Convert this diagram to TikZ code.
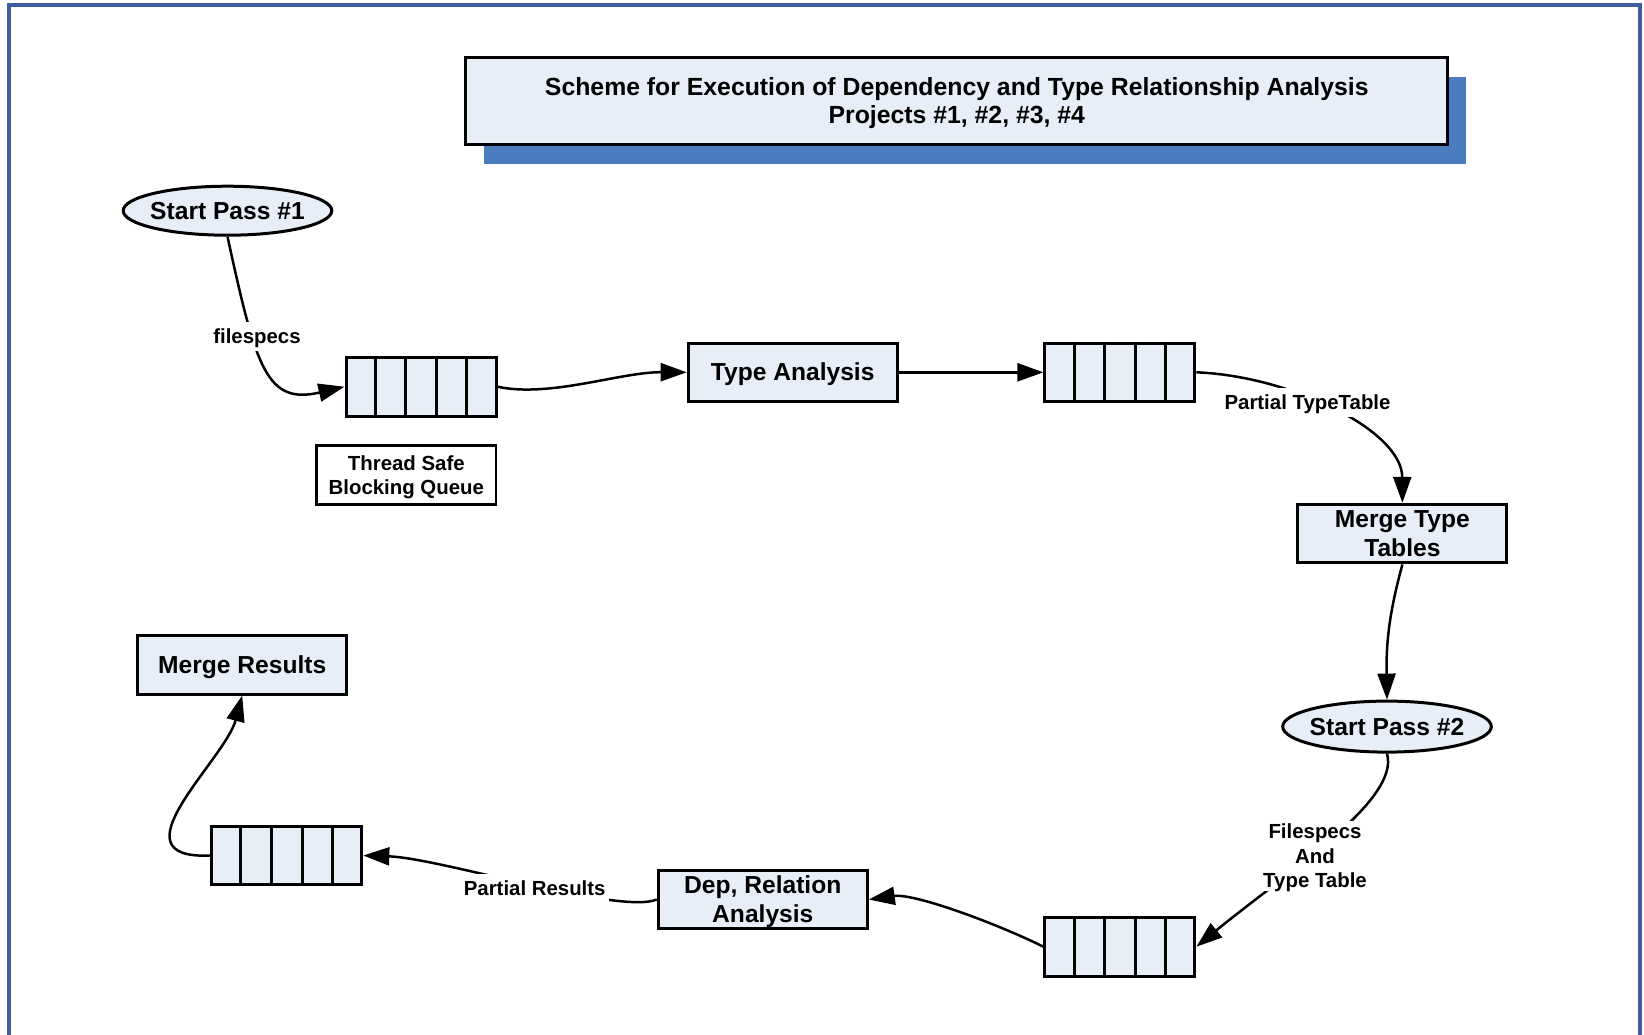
\documentclass[tikz,border=0pt]{standalone}
\usepackage{fontspec}
\setmainfont{Liberation Sans}
\usetikzlibrary{arrows.meta,shapes.geometric,shadows,calc}

\definecolor{framecol}{RGB}{63,94,160}
\definecolor{shadowblue}{RGB}{76,124,192}
\definecolor{boxfill}{RGB}{232,238,247}

\tikzset{
  box/.style={draw, fill=boxfill, line width=1.5pt, inner sep=0pt, align=center,
              font=\fontsize{12.3}{14.2}\selectfont\bfseries},
  oneline/.style={text height=11.1pt, text depth=2.6pt},
  procbox/.style={box, minimum width=104.5pt, minimum height=29.3pt},
  startnode/.style={box, oneline, ellipse, inner xsep=-3pt, minimum width=100pt},
  queuebox/.style={draw, fill=boxfill, line width=1.5pt, inner sep=0pt,
                   minimum width=75pt, minimum height=29.3pt},
  cellline/.style={line width=1.5pt},
  notebox/.style={draw, fill=white, line width=1.3pt, inner sep=0pt, align=center,
                  minimum width=89.7pt, minimum height=29.3pt,
                  font=\fontsize{10.2}{12.3}\selectfont\bfseries},
  flow/.style={line width=1.25pt, -{Triangle[length=13pt,width=9pt]}},
  lbl/.style={fill=white, inner sep=1.5pt, align=center,
              font=\fontsize{10.2}{12.3}\selectfont\bfseries},
  lblone/.style={lbl, text height=9.2pt, text depth=2.2pt},
}

\begin{document}
\begin{tikzpicture}[x=0.5pt, y=-0.5pt]
  \useasboundingbox (0,0) rectangle (1644,1034);
  \fill[white] (0,0) rectangle (1644,1034);

  % outer frame, open at the bottom edge
  \draw[framecol, line width=1.6pt] (9,1050) -- (9,5) -- (1640,5) -- (1640,1050);

  % heading
  \node[box, minimum width=491pt, minimum height=43.5pt, text depth=0.6pt,
        font=\fontsize{12.4}{14.2}\selectfont\bfseries,
        drop shadow={shadow xshift=9pt, shadow yshift=-9.8pt, fill=shadowblue, opacity=1}]
    (title) at (956.8,101.2)
    {Scheme for Execution of Dependency and Type Relationship Analysis\\Projects \#1, \#2, \#3, \#4};

  % pass 1
  \node[startnode, minimum width=104.3pt, minimum height=24.5pt] (sp1) at (227.5,210.7) {Start Pass \#1};
  \node[queuebox] (q1) at (421,386.7) {};
  \node[notebox, text depth=0pt] (tsq) at (406.3,475) {Thread Safe\\Blocking Queue};
  \node[procbox, oneline] (ta) at (792.7,372.3) {Type Analysis};
  \node[queuebox] (q2) at (1119.9,372.3) {};
  \node[procbox] (mtt) at (1402.4,533.6) {Merge Type\\Tables};

  % pass 2
  \node[startnode, minimum width=104.3pt, minimum height=25.5pt] (sp2) at (1387,726.6) {Start Pass \#2};
  \node[queuebox] (q3) at (1119.9,946.7) {};
  \node[procbox, text depth=0.6pt] (dep) at (762.8,899.5) {Dep, Relation\\Analysis};
  \node[queuebox] (q4) at (286.8,855.5) {};
  \node[procbox, oneline] (mr) at (242.2,664.7) {Merge Results};

  % queue cells
  \foreach \q in {q1,q2,q3,q4}
    \foreach \i in {1,...,4}
      \draw[cellline] ($(\q.north west)!\i/5!(\q.north east)$) -- ($(\q.south west)!\i/5!(\q.south east)$);

  % connectors
  \draw[flow] (sp1.south) .. controls (256,367) and (266,405) .. (q1.west);
  \draw[flow] (q1.east) .. controls (550,398) and (620,372) .. (ta.west);
  \draw[flow] (ta.east) -- (q2.west);
  \draw[flow] (q2.east) .. controls (1290,376) and (1402,430) .. (mtt.north);
  \draw[flow] (mtt.south) .. controls (1390,610) and (1386,640) .. (sp2.north);
  \draw[flow] (sp2.south) .. controls (1400,800) and (1290,870) .. (q3.east);
  \draw[flow] (q3.west) .. controls (1000,925) and (915,893) .. (dep.east);
  \draw[flow] (dep.west) .. controls (620,915) and (440,858) .. (q4.east);
  \draw[flow] (q4.west) .. controls (110,860) and (225,760) .. (mr.south);

  % connector labels
  \node[lblone] (l1) at (257,336.6) {filespecs};
  \node[lblone] (l2) at (1307.5,402.6) {Partial TypeTable};
  \node[lbl, text depth=0pt] (l3) at (1315,855.6) {Filespecs\\And\\Type Table};
  \node[lblone] (l4) at (534.7,888) {Partial Results};
\end{tikzpicture}
\end{document}
